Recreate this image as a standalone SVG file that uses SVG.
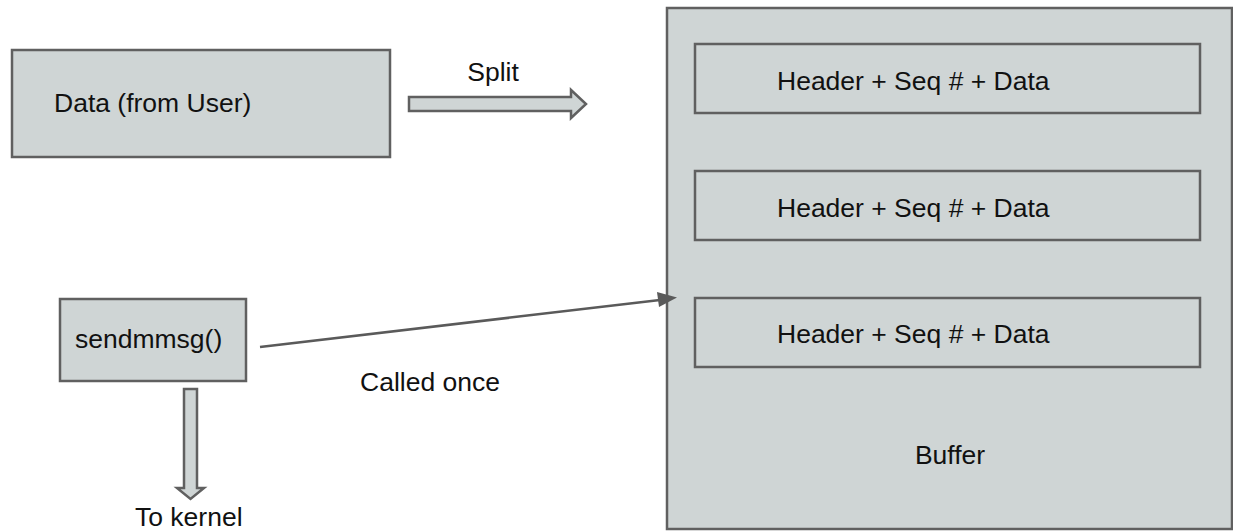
<svg xmlns="http://www.w3.org/2000/svg" width="1233" height="531" viewBox="0 0 1233 531">
  <style>
    .box { fill: #cfd5d5; stroke: #606060; stroke-width: 2.5; }
    .label { font-family: "Liberation Sans", Arial, sans-serif; font-size: 26.5px; fill: #111111; }
    .mid { text-anchor: middle; }
    .block-arrow { fill: #cfd5d5; stroke: #606060; stroke-width: 2.5; stroke-linejoin: miter; }
    .link { stroke: #5a5a5a; stroke-width: 2.5; fill: none; }
    .tip { fill: #5a5a5a; }
  </style>

  <!-- buffer container with three packets -->
  <g id="buffer">
    <rect class="box" x="667" y="8" width="565" height="521"/>
    <text class="label mid" x="950" y="464">Buffer</text>
  </g>
  <g id="packet-1">
    <rect class="box" x="695" y="44" width="505" height="69"/>
    <text class="label" x="777" y="90">Header + Seq # + Data</text>
  </g>
  <g id="packet-2">
    <rect class="box" x="695" y="171" width="505" height="69"/>
    <text class="label" x="777" y="217">Header + Seq # + Data</text>
  </g>
  <g id="packet-3">
    <rect class="box" x="695" y="298" width="505" height="69"/>
    <text class="label" x="777" y="343">Header + Seq # + Data</text>
  </g>

  <!-- user data -->
  <g id="user-data">
    <rect class="box" x="12" y="50" width="378" height="107"/>
    <text class="label" x="54" y="112">Data (from User)</text>
  </g>

  <!-- system call -->
  <g id="sendmmsg">
    <rect class="box" x="60" y="299" width="186" height="82"/>
    <text class="label" x="75" y="348">sendmmsg()</text>
  </g>

  <g id="connectors">
    <!-- split: block arrow to the right -->
    <path class="block-arrow" d="M409,97 L571,97 L571,90 L586,104 L571,118 L571,111 L409,111 Z"/>
    <text class="label mid" x="493" y="81">Split</text>

    <!-- to kernel: block arrow downward -->
    <path class="block-arrow" d="M184,389 L197,389 L197,488 L204,488 L190.5,499 L177,488 L184,488 Z"/>
    <text class="label" x="135" y="526">To kernel</text>

    <!-- single call reaching the buffer -->
    <line class="link" x1="260" y1="347" x2="660" y2="300"/>
    <path class="tip" d="M677,297.5 L657,292 L659,307 Z"/>
    <text class="label" x="360" y="391">Called once</text>
  </g>
</svg>
